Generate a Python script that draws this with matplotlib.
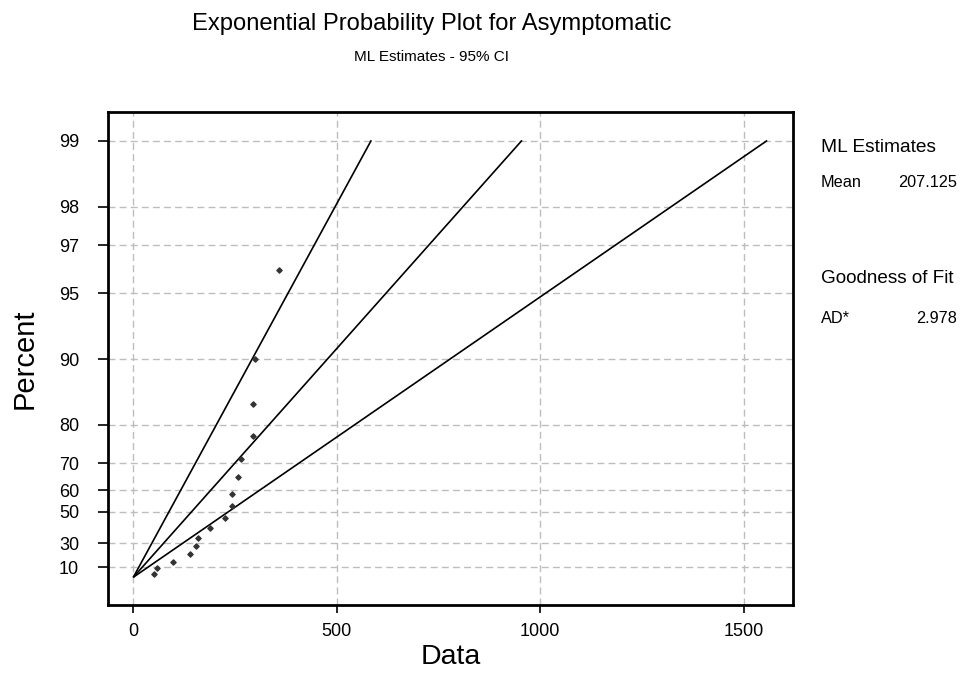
import numpy as np
import matplotlib
matplotlib.use("Agg")
import matplotlib.pyplot as plt

plt.rcParams['font.family'] = ['Liberation Sans', 'DejaVu Sans']

data_values = [52, 59, 97, 140, 154, 160, 188, 225, 242, 242, 257, 264, 294, 294, 300, 359]
percent_values = [3.4, 9.0, 15.2, 21.5, 28.1, 34.1, 40.5, 46.3, 52.9, 58.6,
                  65.3, 71.3, 77.6, 83.9, 90.0, 96.1]

# fitted mean and 95% CI bounds on the mean
mean_est = 207.125
mean_ci_low = 126.8
mean_ci_high = 337.9
ad_stat = 2.978

percent_ticks = [10, 30, 50, 60, 70, 80, 90, 95, 97, 98, 99]
x_ticks = [0, 500, 1000, 1500]


def fwd(p):
    p = np.asarray(p, dtype=float)
    return -np.log(1 - p / 100.0)


def inv(t):
    t = np.asarray(t, dtype=float)
    return 100.0 * (1 - np.exp(-t))


fig = plt.figure(figsize=(9.69, 6.74), dpi=100)
ax = fig.add_axes([0.1111, 0.1019, 0.7076, 0.7319])
ax.set_yscale('function', functions=(fwd, inv))

# fitted line and CI bands (straight lines through the origin in this scale)
p_line = np.array([0.6, 99.0])
t_line = fwd(p_line)
for m in [mean_ci_low, mean_est, mean_ci_high]:
    ax.plot(m * t_line, p_line, color='black', linewidth=1.2, zorder=3)

ax.scatter(data_values, percent_values, marker='D', s=7, color='#333333', zorder=4)

ax.set_xlim(-63, 1622)
ax.set_ylim(inv(-0.296), inv(4.911))
ax.set_xticks(x_ticks)
ax.set_yticks(percent_ticks)
ax.set_yticklabels([str(p) for p in percent_ticks])
ax.minorticks_off()
ax.tick_params(axis='both', labelsize=13, width=1.2, direction='out')
ax.tick_params(axis='x', length=6, pad=7)
ax.tick_params(axis='y', length=7.5, pad=13)
ax.grid(True, color='#bdbdbd', linestyle=(0, (5, 3)), linewidth=1.0)
for s in ax.spines.values():
    s.set_linewidth(2)

ax.set_xlabel("Data", fontsize=20.5)
ax.xaxis.set_label_coords(0.5, -0.078)
ax.set_ylabel("Percent", fontsize=21)
ax.yaxis.set_label_coords(-0.1, 0.5)

fig.text(0.4455, 1 - 30 / 674, "Exponential Probability Plot for Asymptomatic",
         ha='center', va='baseline', fontsize=17.1)
fig.text(0.4455, 1 - 61 / 674, "ML Estimates - 95% CI",
         ha='center', va='baseline', fontsize=11)

# side panel
xl = 821 / 969
xr = 957 / 969
fig.text(xl, 1 - 152 / 674, "ML Estimates", ha='left', va='baseline', fontsize=13.8)
fig.text(xl, 1 - 187 / 674, "Mean", ha='left', va='baseline', fontsize=11.7)
fig.text(xr, 1 - 187 / 674, f"{mean_est:.3f}", ha='right', va='baseline', fontsize=11.7)
fig.text(xl, 1 - 283 / 674, "Goodness of Fit", ha='left', va='baseline', fontsize=13.6)
fig.text(xl, 1 - 323 / 674, "AD*", ha='left', va='baseline', fontsize=11.7)
fig.text(xr, 1 - 323 / 674, f"{ad_stat:.3f}", ha='right', va='baseline', fontsize=11.7)

fig.savefig("out.png", dpi=100)
